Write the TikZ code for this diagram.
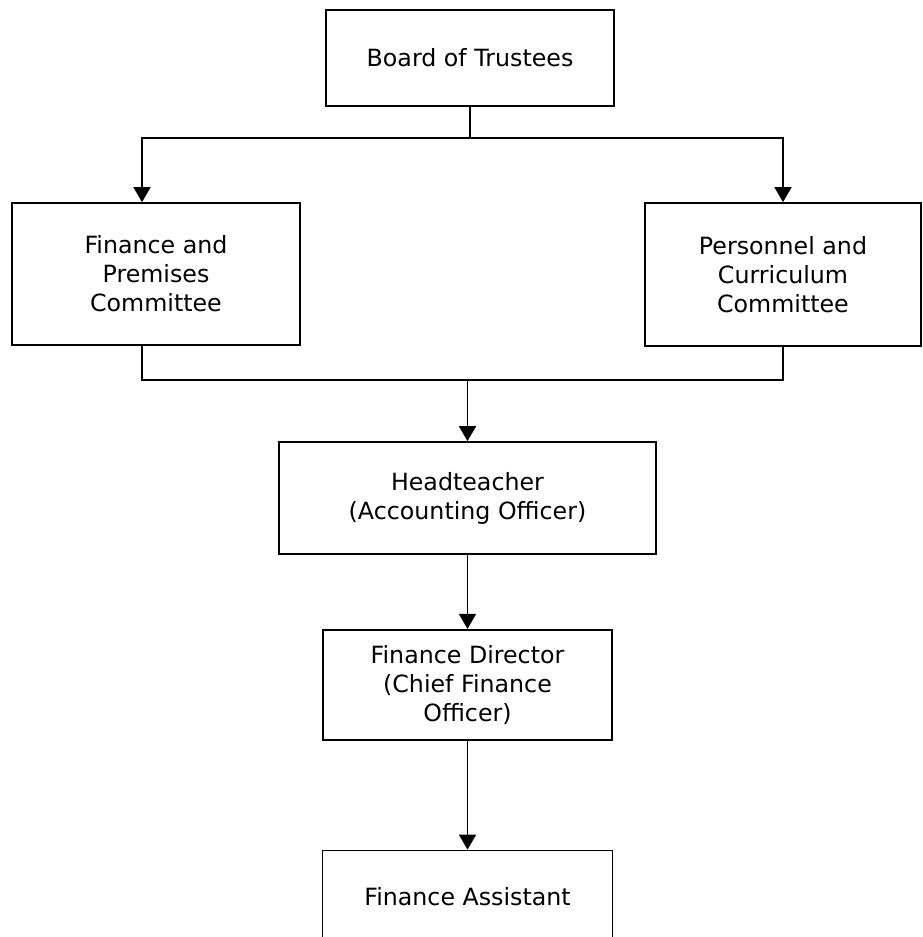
\documentclass[tikz,border=0pt]{standalone}
\usepackage{fontspec}
\setmainfont{DejaVu Sans}
\usetikzlibrary{arrows.meta, positioning}

\begin{document}
\begin{tikzpicture}[
    box/.style={rectangle, draw, line width=1pt, align=center, inner sep=2pt, font=\fontsize{13.5}{16.5}\selectfont},
    link/.style={line width=1pt},
    arrow/.style={line width=1pt, -{Triangle[length=3mm, width=3.4mm]}}
]
    \useasboundingbox (0,0) rectangle (18.44,-18.74);

    % Nodes
    \node (board) [box, minimum width=5.76cm, minimum height=1.92cm] at (9.4,-1.16) {Board of Trustees};
    \node (fpc) [box, minimum width=5.76cm, minimum height=2.84cm] at (3.12,-5.48) {Finance and\\ Premises\\ Committee};
    \node (pcc) [box, minimum width=5.52cm, minimum height=2.86cm] at (15.66,-5.49) {Personnel and\\ Curriculum\\ Committee};
    \node (ht) [box, minimum width=7.54cm, minimum height=2.24cm] at (9.35,-9.96) {Headteacher\\ (Accounting Officer)};
    \node (fd) [box, minimum width=5.78cm, minimum height=2.2cm, below=1.48cm of ht] {Finance Director\\ (Chief Finance\\ Officer)};
    \node (fa) [box, minimum width=5.8cm, minimum height=1.84cm, below=2.18cm of fd] {Finance Assistant};

    % Branch points
    \coordinate (lbranch) at (2.84,-2.76);
    \coordinate (join) at (9.36,-7.6);

    % Arrows
    \draw [arrow] (board.south) |- (lbranch) -- (lbranch |- fpc.north);
    \draw [arrow] (board.south) |- (pcc.north |- lbranch) -- (pcc.north);
    \draw [link] (lbranch |- fpc.south) |- (pcc.south |- join) -- (pcc.south);
    \draw [arrow] (ht.north |- join) -- (ht.north);
    \draw [arrow] (ht) -- (fd);
    \draw [arrow] (fd) -- (fa);

\end{tikzpicture}
\end{document}
